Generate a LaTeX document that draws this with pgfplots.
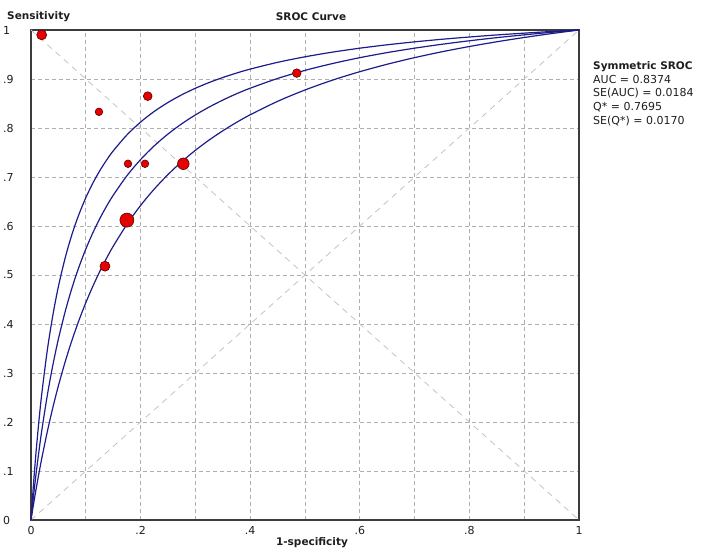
\documentclass[border=0pt]{standalone}
\usepackage{pgfplots}
\pgfplotsset{compat=1.18}
\usepackage{fontspec}
\setmainfont{DejaVu Sans}
\definecolor{curveblue}{RGB}{28,28,140}
\definecolor{gridgray}{RGB}{175,175,175}
\definecolor{diaggray}{RGB}{195,195,195}
\definecolor{ptred}{RGB}{230,0,0}
\definecolor{ptdark}{RGB}{90,0,0}
\definecolor{axgray}{RGB}{60,60,60}
\definecolor{txt}{RGB}{30,30,30}

\pgfplotstableread{
x y r
0.0195 0.990 5.0
0.124 0.833 3.8
0.213 0.865 4.4
0.177 0.727 3.8
0.208 0.727 3.8
0.278 0.727 5.8
0.175 0.612 7.0
0.135 0.518 5.0
0.485 0.912 4.3
}\studies

\begin{document}
\fontsize{11}{13}\selectfont
\begin{tikzpicture}[x=1pt,y=1pt]
\path[use as bounding box] (-31,-32) rectangle (671,520);
\begin{axis}[
  at={(0,0)}, anchor=south west,
  scale only axis, width=548pt, height=490pt,
  xmin=0, xmax=1, ymin=0, ymax=1,
  clip=false,
  xtick={0,0.2,0.4,0.6,0.8,1},
  xticklabels={0,.2,.4,.6,.8,1},
  minor xtick={0.1,0.3,0.5,0.7,0.9},
  ytick={0,0.1,0.2,0.3,0.4,0.5,0.6,0.7,0.8,0.9,1},
  yticklabels={0,.1,.2,.3,.4,.5,.6,.7,.8,.9,1},
  grid=both,
  major grid style={gridgray, line width=0.8pt, dash pattern=on 4pt off 3pt},
  minor grid style={gridgray, line width=0.8pt, dash pattern=on 4pt off 3pt},
  major tick length=0pt, minor tick length=0pt,
  axis line style={axgray, line width=1.4pt},
  yticklabel style={anchor=west, inner sep=0pt, xshift=-28pt, text=txt},
  xticklabel style={anchor=north, inner sep=0pt, yshift=-6pt, text=txt},
]
\addplot[diaggray, line width=0.8pt, dash pattern=on 6pt off 5pt] coordinates {(0,0) (1,1)};
\addplot[diaggray, line width=0.8pt, dash pattern=on 6pt off 5pt] coordinates {(0,1) (1,0)};
% upper curve
\addplot[curveblue, line width=1.2pt, smooth, tension=0.5] coordinates {
(0,0) (0.001,0.0170) (0.002,0.0335) (0.005,0.0799) (0.0075,0.1155) (0.01,0.1487)
(0.015,0.2084) (0.02,0.2608) (0.03,0.3484) (0.04,0.4187)
(0.05,0.4764) (0.0625,0.5355) (0.075,0.5837) (0.0875,0.6238) (0.1,0.6577)
(0.1125,0.6867) (0.125,0.7118) (0.1375,0.7338) (0.15,0.7532) (0.175,0.7858)
(0.2,0.8121) (0.225,0.8339) (0.25,0.8521) (0.275,0.8677) (0.3,0.8811)
(0.325,0.8928) (0.35,0.9030) (0.375,0.9121) (0.4,0.9202) (0.45,0.9340)
(0.5,0.9453) (0.55,0.9548) (0.6,0.9629) (0.65,0.9698) (0.7,0.9758)
(0.75,0.9811) (0.8,0.9857) (0.85,0.9899) (0.9,0.9936) (0.95,0.9970) (1,1)};
% middle curve
\addplot[curveblue, line width=1.2pt, smooth, tension=0.5] coordinates {
(0,0) (0.001,0.0110) (0.002,0.0218) (0.005,0.0530) (0.0075,0.0776) (0.01,0.1011)
(0.015,0.1449) (0.02,0.1851) (0.03,0.2561) (0.04,0.3168)
(0.05,0.3694) (0.0625,0.4259) (0.075,0.4744) (0.0875,0.5163) (0.1,0.5529)
(0.1125,0.5852) (0.125,0.6139) (0.1375,0.6396) (0.15,0.6626) (0.175,0.7025)
(0.2,0.7356) (0.225,0.7637) (0.25,0.7877) (0.275,0.8085) (0.3,0.8267)
(0.325,0.8427) (0.35,0.8570) (0.375,0.8698) (0.4,0.8812) (0.45,0.9011)
(0.5,0.9176) (0.55,0.9315) (0.6,0.9435) (0.65,0.9539) (0.7,0.9629)
(0.75,0.9709) (0.8,0.9780) (0.85,0.9844) (0.9,0.9901) (0.95,0.9953) (1,1)};
% lower curve
\addplot[curveblue, line width=1.2pt, smooth, tension=0.5] coordinates {
(0,0) (0.001,0.0071) (0.002,0.0142) (0.005,0.0348) (0.0075,0.0514) (0.01,0.0675)
(0.015,0.0984) (0.02,0.1276) (0.03,0.1815) (0.04,0.2300)
(0.05,0.2740) (0.0625,0.3234) (0.075,0.3676) (0.0875,0.4074) (0.1,0.4434)
(0.1125,0.4761) (0.125,0.5060) (0.1375,0.5334) (0.15,0.5586) (0.175,0.6033)
(0.2,0.6419) (0.225,0.6755) (0.25,0.7050) (0.275,0.7312) (0.3,0.7545)
(0.325,0.7754) (0.35,0.7943) (0.375,0.8114) (0.4,0.8270) (0.45,0.8544)
(0.5,0.8776) (0.55,0.8976) (0.6,0.9149) (0.65,0.9301) (0.7,0.9436)
(0.75,0.9556) (0.8,0.9663) (0.85,0.9760) (0.9,0.9847) (0.95,0.9927) (1,1)};
% study points
\addplot[scatter, only marks, mark=*,
  scatter/use mapped color={draw=ptdark, fill=ptred},
  mark options={line width=0.6pt},
  visualization depends on={\thisrow{r} \as \rr},
  scatter/@pre marker code/.append style={/tikz/mark size=\rr pt}]
  table[x=x, y=y] {\studies};
\end{axis}
\node[anchor=base west, inner sep=0pt, text=txt, font=\fontsize{10.5}{12}\selectfont\bfseries] at (-24,500) {Sensitivity};
\node[anchor=base, inner sep=0pt, text=txt, font=\fontsize{10.5}{12}\selectfont\bfseries] at (280,499) {SROC Curve};
\node[anchor=base, inner sep=0pt, text=txt, font=\fontsize{10.5}{12}\selectfont\bfseries] at (281,-26) {1-specificity};
\node[anchor=base west, inner sep=0pt, text=txt, font=\fontsize{10.5}{12}\selectfont\bfseries] at (562,450) {Symmetric SROC};
\node[anchor=base west, inner sep=0pt, text=txt] at (562,436) {AUC = 0.8374};
\node[anchor=base west, inner sep=0pt, text=txt] at (562,423) {SE(AUC) = 0.0184};
\node[anchor=base west, inner sep=0pt, text=txt] at (562,409) {Q* = 0.7695};
\node[anchor=base west, inner sep=0pt, text=txt] at (562,395) {SE(Q*) = 0.0170};
\end{tikzpicture}
\end{document}
